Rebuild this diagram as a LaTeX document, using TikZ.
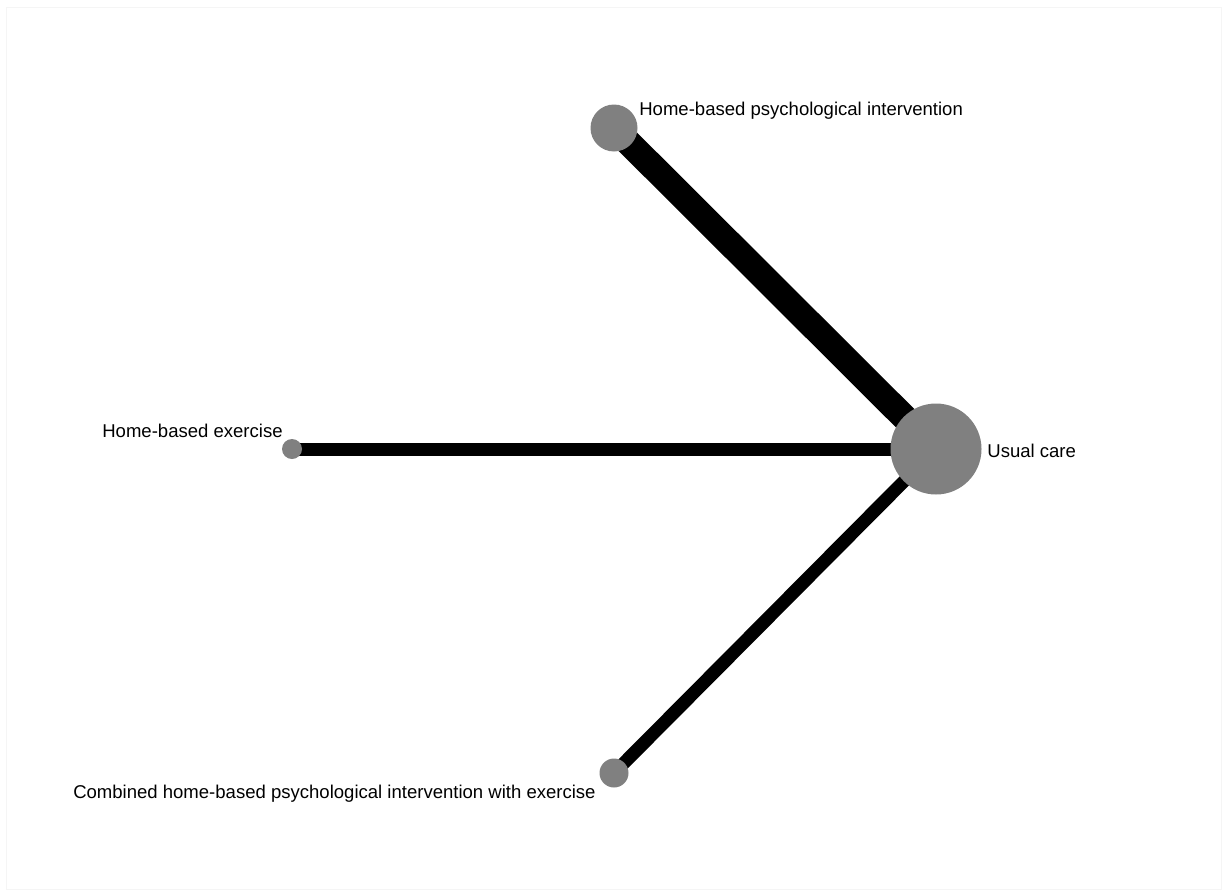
\documentclass[tikz,border=0pt]{standalone}
\usepackage{fontspec}
\setmainfont{Liberation Sans}
\usepackage{tikz}
\usetikzlibrary{backgrounds}

\tikzset{
  trt/.style = {circle, fill=black!50, inner sep=0pt},
  lbl/.style = {inner sep=0pt, font=\fontsize{10.55}{12}\selectfont},
  edge/.style = {black, line cap=butt}
}

\begin{document}
\begin{tikzpicture}[x=0.02cm, y=-0.02cm]
% Frame of the picture
\useasboundingbox (0,0) rectangle (1222,889);
\draw[black!4, line width=0.02cm] (6,7) rectangle (1221,889);

% Draw the treatments
\node[trt, minimum size=91*0.02cm] (usual) at (936,449) {};
\node[trt, minimum size=47*0.02cm] (psych) at (614,128) {};
\node[trt, minimum size=20*0.02cm] (exer) at (292,449) {};
\node[trt, minimum size=29*0.02cm] (comb) at (614,773) {};

% Labels of the treatments
\node[lbl, anchor=base west] (usuallbl) at (987,457) {Usual care};
\node[lbl, anchor=base west] (psychlbl) at (639,115) {Home-based psychological intervention};
\node[lbl, anchor=base east] (exerlbl) at (283,437) {Home-based exercise};
\node[lbl, anchor=base east] (comblbl) at (596,798) {Combined home-based psychological intervention with exercise};

% Draw the comparisons
\begin{pgfonlayer}{background}
\draw[edge, line width=26*0.02cm] (usual.center) -- (psych.center);
\draw[edge, line width=13*0.02cm] (usual.center) -- (exer.center);
\draw[edge, line width=13*0.02cm] (usual.center) -- (comb.center);
\end{pgfonlayer}

\end{tikzpicture}
\end{document}
